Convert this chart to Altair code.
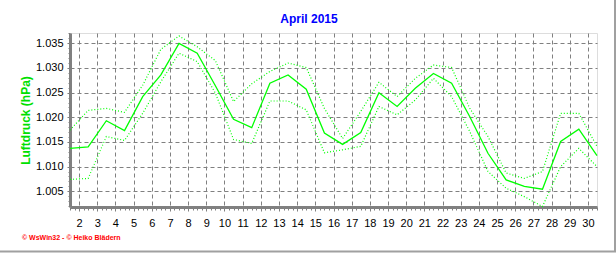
import altair as alt
import pandas as pd

# ---- data (daily values, April 2015) ----
days = list(range(1, 31))
mean_p = [1.0137, 1.0140, 1.0193, 1.0173, 1.0242, 1.0286, 1.0350, 1.0330, 1.0264, 1.0196,
          1.0179, 1.0269, 1.0286, 1.0257, 1.0168, 1.0145, 1.0169, 1.0250, 1.0222, 1.0259,
          1.0289, 1.0269, 1.0201, 1.0127, 1.0073, 1.0060, 1.0054, 1.0151, 1.0176, 1.0122]
max_p = [1.0174, 1.0214, 1.0218, 1.0210, 1.0265, 1.0338, 1.0365, 1.0343, 1.0315, 1.0232,
         1.0268, 1.0293, 1.0310, 1.0301, 1.0218, 1.0157, 1.0212, 1.0271, 1.0242, 1.0279,
         1.0306, 1.0301, 1.0218, 1.0161, 1.0087, 1.0076, 1.0090, 1.0208, 1.0208, 1.0141]
min_p = [1.0074, 1.0076, 1.0161, 1.0153, 1.0208, 1.0272, 1.0330, 1.0313, 1.0249, 1.0155,
         1.0147, 1.0233, 1.0233, 1.0215, 1.0128, 1.0134, 1.0141, 1.0222, 1.0205, 1.0235,
         1.0279, 1.0242, 1.0171, 1.0090, 1.0056, 1.0039, 1.0019, 1.0100, 1.0137, 1.0100]

x_ticks = list(range(2, 31))
y_ticks = [1.005, 1.010, 1.015, 1.020, 1.025, 1.030, 1.035]
x_minor = [1.5 + 0.25 * i for i in range(117)]
y_minor = [round(1.002 + 0.001 * i, 3) for i in range(36)]

title_text = "April 2015"
y_title = "Luftdruck (hPa)"
credit = "© WsWin32 - © Heiko Blädern"

rows = []
for d, a, hi, lo in zip(days, mean_p, max_p, min_p):
    rows.append({"x": d + 0.5, "series": "Mittel", "p": a})
    rows.append({"x": d + 0.5, "series": "Max", "p": hi})
    rows.append({"x": d + 0.5, "series": "Min", "p": lo})
df = pd.DataFrame(rows)
dummy = pd.DataFrame({"k": [0]})

FONT = "Liberation Sans"
GREEN = "#00ff00"
GRAY = "#808080"

xs = alt.Scale(domain=[1.5, 30.5], nice=False, zero=False)
ys = alt.Scale(domain=[1.0018, 1.0371], nice=False, zero=False)

x_axis = alt.Axis(values=x_ticks, format="d", title=None, orient="bottom",
                  labelFontSize=11, labelFont=FONT,
                  labelColor="black", tickSize=4, tickColor=GRAY, labelPadding=6,
                  grid=True, gridColor=GRAY, gridDash=[4, 3], gridWidth=1,
                  domainColor=GRAY, domainWidth=3, labelFlush=False, labelOverlap=False)
y_axis = alt.Axis(values=y_ticks, format=".3f", title=y_title, orient="left",
                  labelFontSize=11, labelFont=FONT,
                  labelColor="black", tickSize=3, tickColor=GRAY, labelPadding=4,
                  grid=True, gridColor=GRAY, gridDash=[4, 3], gridWidth=1,
                  domainColor=GRAY, domainWidth=3, labelFlush=False, labelOverlap=False,
                  titleColor="#00e000", titleFont=FONT, titleFontSize=12, titleFontWeight="bold",
                  titleX=-45, titleY=87, titleAngle=270, titleAlign="center",
                  titleBaseline="middle")
x_minor_axis = alt.Axis(values=x_minor, orient="bottom", labels=False, grid=False, domain=False,
                        tickSize=3, tickColor=GRAY, title=None)
y_minor_axis = alt.Axis(values=y_minor, orient="left", labels=False, grid=False, domain=False,
                        tickSize=2, tickColor=GRAY, title=None)

base = alt.Chart(df)

mean_line = base.transform_filter(alt.datum.series == "Mittel").mark_line(
    color=GREEN, strokeWidth=1.3
).encode(
    x=alt.X("x:Q", scale=xs, axis=x_axis),
    y=alt.Y("p:Q", scale=ys, axis=y_axis),
)

env_lines = base.transform_filter(alt.datum.series != "Mittel").mark_line(
    color=GREEN, strokeWidth=1.2, strokeDash=[1, 2]
).encode(
    x=alt.X("x:Q", scale=xs, axis=x_minor_axis),
    y=alt.Y("p:Q", scale=ys, axis=y_minor_axis),
    detail="series:N",
)

frame_right = alt.Chart(dummy).mark_rule(color="#a0a0a0", strokeWidth=2).encode(
    x=alt.value(545), y=alt.value(-33), y2=alt.value(219)
)
frame_bottom = alt.Chart(dummy).mark_rule(color="#a0a0a0", strokeWidth=2).encode(
    x=alt.value(-70), x2=alt.value(546), y=alt.value(218.5)
)
credit_text = alt.Chart(dummy).mark_text(
    text=credit, align="left", baseline="middle", fontSize=7, font=FONT,
    fontWeight="bold", color="#ff0000"
).encode(x=alt.value(-48), y=alt.value(205))
title_mark = alt.Chart(dummy).mark_text(
    text=title_text, align="center", baseline="middle", fontSize=12, font=FONT,
    fontWeight="bold", color="#0000ff"
).encode(x=alt.value(239), y=alt.value(-14))

chart = alt.layer(env_lines, mean_line, frame_right, frame_bottom, credit_text,
                  title_mark).resolve_axis(
    x="independent", y="independent"
).properties(
    width=527, height=174,
    autosize=alt.AutoSizeParams(type="none"),
    padding={"left": 70, "top": 33, "right": 19, "bottom": 46},
).configure_view(
    stroke="black", strokeWidth=1
).configure(background="white")

chart.save("out.html", embed_options={"renderer": "svg", "actions": False})
